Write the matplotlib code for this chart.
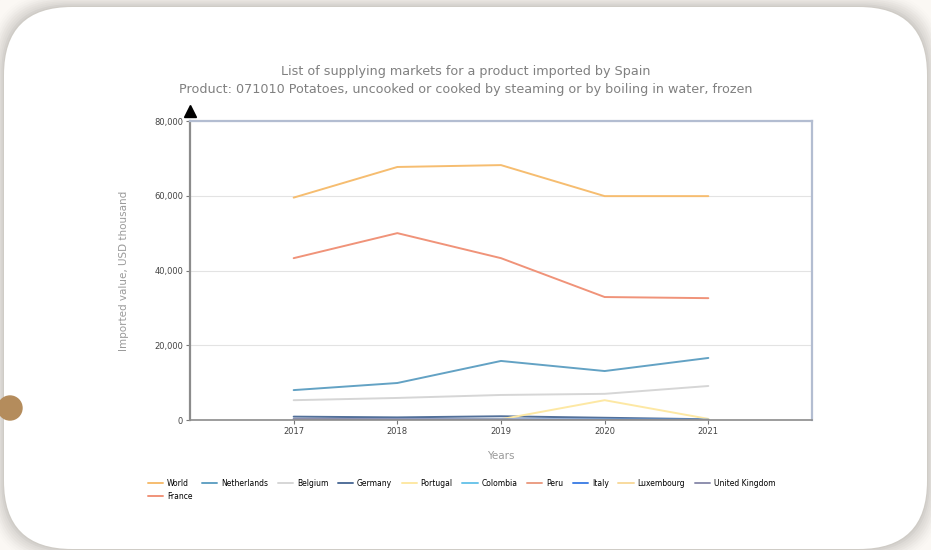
import matplotlib
matplotlib.use("Agg")
import matplotlib.pyplot as plt
from matplotlib.patches import FancyBboxPatch, Circle
import numpy as np

W, H = 931, 550

years = [2017, 2018, 2019, 2020, 2021]
series_names = ["World", "Netherlands", "Belgium", "Germany", "Portugal", "Colombia",
                "Peru", "Italy", "Luxembourg", "United Kingdom", "France"]
world = [59500, 67700, 68200, 59900, 59900]
netherlands = [8000, 9900, 15800, 13100, 16600]
belgium = [5300, 5900, 6700, 7000, 9100]
germany = [900, 700, 1000, 600, 200]
portugal = [0, 0, 200, 5300, 300]
colombia = [0, 0, 50, 100, 60]
peru = [0, 0, 0, 30, 20]
italy = [200, 150, 100, 100, 50]
luxembourg = [0, 0, 0, 0, 0]
united_kingdom = [300, 200, 150, 50, 20]
france = [43300, 50000, 43300, 32900, 32600]
values = [world, netherlands, belgium, germany, portugal, colombia,
          peru, italy, luxembourg, united_kingdom, france]
colors = ["#f6bd70", "#63a2c4", "#d6d6d6", "#52709a", "#fde8a4", "#6cc5ea",
          "#eb9e84", "#4583e6", "#f8da9e", "#8e8fae", "#f09379"]
yticks = [0, 20000, 40000, 60000, 80000]

fig = plt.figure(figsize=(W / 100, H / 100), dpi=100)
fig.patch.set_facecolor("#f3efea")

# background / card layer
bg = fig.add_axes([0, 0, 1, 1])
bg.set_xlim(0, W)
bg.set_ylim(H, 0)
bg.axis("off")
bg.add_patch(plt.Rectangle((0, 0), W, H, color="#fbf8f4", zorder=0))
R = 68
cx, cy, cw, ch = 4, 7, 923, 542
for i, a in enumerate(np.linspace(0.06, 0.012, 9)):
    pad = 1 + i * 1.6
    bg.add_patch(FancyBboxPatch((cx - pad + R, cy - pad + R), cw + 2 * pad - 2 * R, ch + 2 * pad - 2 * R,
                                boxstyle=f"round,pad={R}", linewidth=0,
                                facecolor="#6e6a64", alpha=a, zorder=1))
bg.add_patch(FancyBboxPatch((cx + R, cy + R), cw - 2 * R, ch - 2 * R,
                            boxstyle=f"round,pad={R}", linewidth=0,
                            facecolor="white", zorder=2))
bg.add_patch(Circle((10, 408), 12, color="#b48c5c", zorder=3))

# chart axes
x0, x1 = 190, 812
y0, y1 = 121, 420
ax = fig.add_axes([x0 / W, 1 - y1 / H, (x1 - x0) / W, (y1 - y0) / H])
ax.set_facecolor("none")
handles = []
for name, vals, c in zip(series_names, values, colors):
    h, = ax.plot(years, vals, color=c, lw=1.4, label=name, solid_capstyle="round")
    handles.append(h)

ax.set_xlim(2016, 2022)
ax.set_ylim(0, 80000)
ax.set_xticks(years)
ax.set_xticklabels([str(y) for y in years], fontsize=6, color="#444")
ax.set_yticks(yticks)
ax.set_yticklabels([f"{v:,}" for v in yticks], fontsize=6, color="#444")
ax.yaxis.grid(True, color="#e3e3e3", lw=0.8)
ax.set_axisbelow(True)
ax.tick_params(axis="both", length=3, width=0.8, color="#777", pad=2)
ax.spines["left"].set_color("#8c8c8c")
ax.spines["left"].set_linewidth(1.6)
ax.spines["bottom"].set_color("#8c8c8c")
ax.spines["bottom"].set_linewidth(1.2)
ax.spines["top"].set_color("#b3bdd1")
ax.spines["top"].set_linewidth(1.6)
ax.spines["right"].set_color("#b3bdd1")
ax.spines["right"].set_linewidth(1.6)
ax.plot([0], [1.035], marker="^", color="black", markersize=8,
        transform=ax.transAxes, clip_on=False)

ax.set_xlabel("Years", fontsize=7.5, color="#9a9a9a", labelpad=11)
ax.set_ylabel("Imported value, USD thousand", fontsize=7.5, color="#9a9a9a", labelpad=18)

fig.text(466 / W, 1 - 72 / H, "List of supplying markets for a product imported by Spain",
         ha="center", va="center", fontsize=9.2, color="#808080")
fig.text(466 / W, 1 - 90 / H,
         "Product: 071010 Potatoes, uncooked or cooked by steaming or by boiling in water, frozen",
         ha="center", va="center", fontsize=9.2, color="#808080")

# reorder so that legend reads row-wise (France wraps to second row)
order = [0, 10, 1, 2, 3, 4, 5, 6, 7, 8, 9]
fig.legend([handles[i] for i in order], [series_names[i] for i in order],
           loc="upper left", bbox_to_anchor=(148 / W, 1 - 479 / H), ncol=10,
           frameon=False, fontsize=5.5, handlelength=2.0, handletextpad=0.5,
           columnspacing=1.25, labelspacing=0.5, borderaxespad=0, borderpad=0)

fig.savefig("out.png", dpi=100)
